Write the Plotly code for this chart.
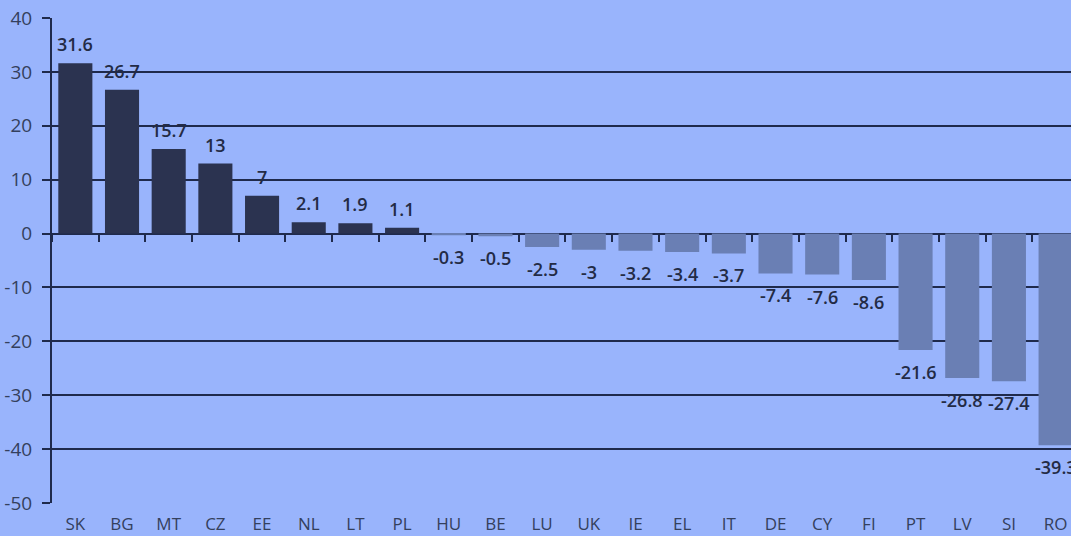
import plotly.graph_objects as go

# Country codes and their values
countries = ["SK", "BG", "MT", "CZ", "EE", "NL", "LT", "PL", "HU", "BE", "LU",
             "UK", "IE", "EL", "IT", "DE", "CY", "FI", "PT", "LV", "SI", "RO"]
values = [31.6, 26.7, 15.7, 13, 7, 2.1, 1.9, 1.1, -0.3, -0.5, -2.5,
          -3, -3.2, -3.4, -3.7, -7.4, -7.6, -8.6, -21.6, -26.8, -27.4, -39.3]
y_ticks = [40, 30, 20, 10, 0, -10, -20, -30, -40, -50]
y_tick_labels = ["40", "30", "20", "10", "0", "-10", "-20", "-30", "-40", "-50"]

BG = "#99b4fc"
DARK = "#2b3350"
NEG = "#6a7fb4"
GRID = "#1f2a4c"
LABEL = "#232b45"
TICK = "#34405d"
FONT = "Open Sans"

y_min, y_max = min(y_ticks), max(y_ticks)
bar_colors = [DARK if v >= 0 else NEG for v in values]

fig = go.Figure()
fig.add_trace(go.Bar(
    x=countries, y=values,
    marker=dict(color=bar_colors, line=dict(width=0)),
    hoverinfo="x+y",
))
# helper trace so the zero-line axis knows its categories
fig.add_trace(go.Scatter(
    x=countries, y=[0] * len(countries), xaxis="x2", mode="none",
    hoverinfo="skip", showlegend=False,
))

# value labels above positive bars, below negative bars
for c, v in zip(countries, values):
    fig.add_annotation(
        x=c, y=v, text=f"{v:g}", showarrow=False,
        yanchor="bottom" if v >= 0 else "top",
        yshift=5 if v >= 0 else -8,
        font=dict(family=FONT, size=18, color=LABEL, weight=600),
    )

x_range = [-0.5, 21.33]
fig.update_layout(
    width=1071, height=536,
    margin=dict(l=52, r=0, t=18, b=33),
    paper_bgcolor=BG, plot_bgcolor=BG,
    showlegend=False,
    bargap=0.27,
    font=dict(family=FONT, color=TICK),
    xaxis=dict(
        type="category", range=x_range, showgrid=False, zeroline=False,
        showline=False, ticks="",
        tickfont=dict(size=17, color=TICK, weight=500),
        ticklabelstandoff=9,
    ),
    xaxis2=dict(
        type="category", overlaying="x", anchor="free",
        position=(0 - y_min) / (y_max - y_min), range=x_range,
        showticklabels=False, showgrid=False, zeroline=False,
        showline=True, linecolor=GRID, linewidth=1,
        ticks="outside", tickson="boundaries", ticklen=7, tickwidth=2,
        tickcolor=GRID, layer="below traces",
    ),
    yaxis=dict(
        range=[y_min, y_max], tickvals=y_ticks, ticktext=y_tick_labels,
        showgrid=True, gridcolor=GRID, gridwidth=2, zeroline=False,
        showline=True, linecolor=GRID, linewidth=2,
        ticks="outside", ticklen=8, tickwidth=2, tickcolor=GRID,
        tickfont=dict(size=19, color=TICK, weight=500), ticklabelstandoff=6,
        layer="below traces",
    ),
)

fig.write_html("out.html")
